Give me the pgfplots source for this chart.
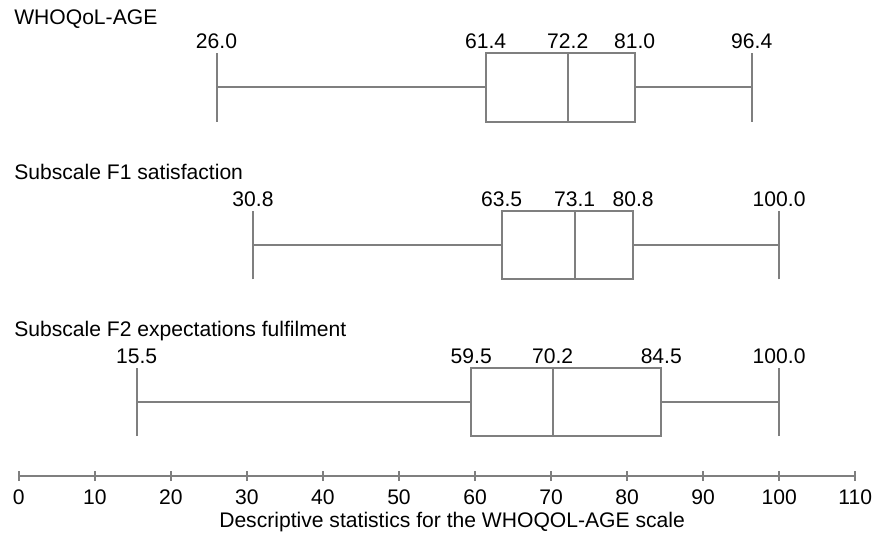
\documentclass[border=0pt]{standalone}
\usepackage{fontspec}
\setmainfont{Liberation Sans}
\usepackage{pgfplots}
\usepgfplotslibrary{statistics}
\pgfplotsset{compat=1.18}

\definecolor{boxgray}{HTML}{7F7F7F}
\newcommand{\chartfont}{\fontsize{11.7}{14}\selectfont}

% one reference pixel = 0.55pt, y runs upwards from the axis line
\pgfplotsset{
  whobox/.style={
    boxgray, line width=1.1pt, solid, mark=none,
    boxplot prepared={draw direction=x, #1, box extend=69, whisker extend=69}
  },
  numlabels/.style={
    only marks, mark=none, nodes near coords, point meta=explicit symbolic,
    every node near coord/.append style={anchor=base, inner sep=0pt, font=\chartfont, text=black}
  }
}

\begin{document}
\begin{tikzpicture}
\begin{axis}[
    scale only axis,
    width=463.65pt, height=264pt,
    xmin=0, xmax=110, ymin=0, ymax=480,
    clip=false,
    axis x line=bottom,
    axis y line=none,
    x axis line style={-, boxgray, line width=1.1pt},
    xtick={0,10,...,110},
    tick align=center,
    major tick length=5.5pt,
    tick style={boxgray, line width=1.1pt},
    /pgf/number format/assume math mode=true,
    xticklabel style={font=\chartfont, anchor=base, yshift=-13pt},
    xlabel={Descriptive statistics for the WHOQOL-AGE scale},
    xlabel style={font=\chartfont, at={(axis description cs:0.518,0)}, anchor=base, yshift=-28.4pt},
]
% bounding box of the whole reference picture
\path (axis cs:-2.479,-66) rectangle (axis cs:112.09,480);

% WHOQoL-AGE
\addplot[whobox={lower whisker=26.0, lower quartile=61.4, median=72.2, upper quartile=81.0, upper whisker=96.4, draw position=392}] coordinates {};
\addplot[numlabels] coordinates {(26.0,431)[26.0] (61.4,431)[61.4] (72.2,431)[72.2] (81.0,431)[81.0] (96.4,431)[96.4]};

% Subscale F1
\addplot[whobox={lower whisker=30.8, lower quartile=63.5, median=73.1, upper quartile=80.8, upper whisker=100.0, draw position=233}] coordinates {};
\addplot[numlabels] coordinates {(30.8,272)[30.8] (63.5,272)[63.5] (73.1,272)[73.1] (80.8,272)[80.8] (100.0,272)[100.0]};

% Subscale F2
\addplot[whobox={lower whisker=15.5, lower quartile=59.5, median=70.2, upper quartile=84.5, upper whisker=100.0, draw position=75}] coordinates {};
\addplot[numlabels] coordinates {(15.5,114)[15.5] (59.5,114)[59.5] (70.2,114)[70.2] (84.5,114)[84.5] (100.0,114)[100.0]};

% group titles
\addplot[numlabels, every node near coord/.append style={anchor=base west}] coordinates {
  (-0.65,455.4)[WHOQoL-AGE]
  (-0.65,299.4)[Subscale F1 satisfaction]
  (-0.65,140.4)[Subscale F2 expectations fulfilment]
};
\end{axis}
\end{tikzpicture}
\end{document}
